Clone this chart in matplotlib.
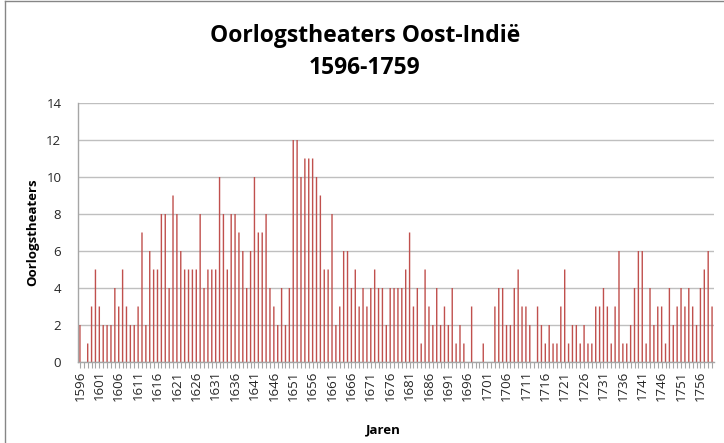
import matplotlib
matplotlib.use("Agg")
import matplotlib.pyplot as plt
from matplotlib.lines import Line2D

years = list(range(1596, 1760))
values = [
    2, 0, 1, 3, 5, 3, 2, 2, 2, 4, 3, 5, 3, 2, 2, 3, 7, 2, 6, 5,
    5, 8, 8, 4, 9, 8, 6, 5, 5, 5, 5, 8, 4, 5, 5, 5, 10, 8, 5, 8, 8,
    7, 6, 4, 6, 10, 7, 7, 8, 4, 3, 2, 4, 2, 4, 12, 12, 10, 11, 11, 11,
    10, 9, 5, 5, 8, 2, 3, 6, 6, 4, 5, 3, 4, 3, 4, 5, 4, 4, 2, 4, 4,
    4, 4, 5, 7, 3, 4, 1, 5, 3, 2, 4, 2, 3, 2, 4, 1, 2, 1, 0, 3,
    0, 0, 1, 0, 0, 3, 4, 4, 2, 2, 4, 5, 3, 3, 2, 0, 3, 2, 1, 2, 1,
    1, 3, 5, 1, 2, 2, 1, 2, 1, 1, 3, 3, 4, 3, 1, 3, 6, 1, 1, 2, 4,
    6, 6, 1, 4, 2, 3, 3, 1, 4, 2, 3, 4, 3, 4, 3, 2, 4, 5, 6, 3,
]
title_lines = ["Oorlogstheaters Oost-Indië", "1596-1759"]
y_label = "Oorlogstheaters"
x_label = "Jaren"
y_ticks = [0, 2, 4, 6, 8, 10, 12, 14]

plt.rcParams['font.family'] = ['Open Sans', 'DejaVu Sans']

W, H = 724, 443
fig = plt.figure(figsize=(W / 100, H / 100), dpi=100)
ax = fig.add_axes([78 / W, 1 - 362 / H, (714 - 78) / W, (362 - 103) / H])

pos = list(range(len(years)))
bars = ax.bar(pos, values, width=0.36, color='#C0504D', linewidth=0, zorder=3)
for b in bars:
    b.set_snap(False)
    b.set_antialiased(True)

ax.set_xlim(-0.5, len(years) - 0.5)
ax.set_ylim(0, 14)
ax.set_yticks(y_ticks)
ax.yaxis.grid(True, color='#BFBFBF', linewidth=1.0, zorder=0)
ax.tick_params(axis='y', length=0, labelsize=9.5, pad=12, labelcolor='#262626')

ax.set_xticks(pos)
ax.set_xticklabels([str(y) if (y - 1596) % 5 == 0 else '' for y in years],
                   rotation=90, fontsize=9.5, color='#262626')
ax.tick_params(axis='x', length=4, width=0.8, color='#A6A6A6', pad=2)

for s in ['top', 'right']:
    ax.spines[s].set_visible(False)
for s in ['left', 'bottom']:
    ax.spines[s].set_color('#A6A6A6')
    ax.spines[s].set_linewidth(1.0)
    ax.spines[s].set_zorder(4)

fig.text(365 / W, 1 - 36 / H, title_lines[0], ha='center', va='center',
         fontsize=16.5, fontweight='bold', color='black')
fig.text(365 / W, 1 - 68 / H, title_lines[1], ha='center', va='center',
         fontsize=16.5, fontweight='bold', color='black')
fig.text(33 / W, 1 - 232 / H, y_label, rotation=90, ha='center', va='center',
         fontsize=9.5, fontweight='bold', color='black')
fig.text(383 / W, 1 - 430 / H, x_label, ha='center', va='center',
         fontsize=9.5, fontweight='bold', color='black')

# chart border
fig.add_artist(Line2D([4.5 / W, 4.5 / W], [0, 1 - 1 / H], color='#868686',
                      linewidth=1.0, transform=fig.transFigure))
fig.add_artist(Line2D([4.5 / W, 1], [1 - 1 / H, 1 - 1 / H], color='#868686',
                      linewidth=1.0, transform=fig.transFigure))

fig.savefig('out.png', dpi=100)
